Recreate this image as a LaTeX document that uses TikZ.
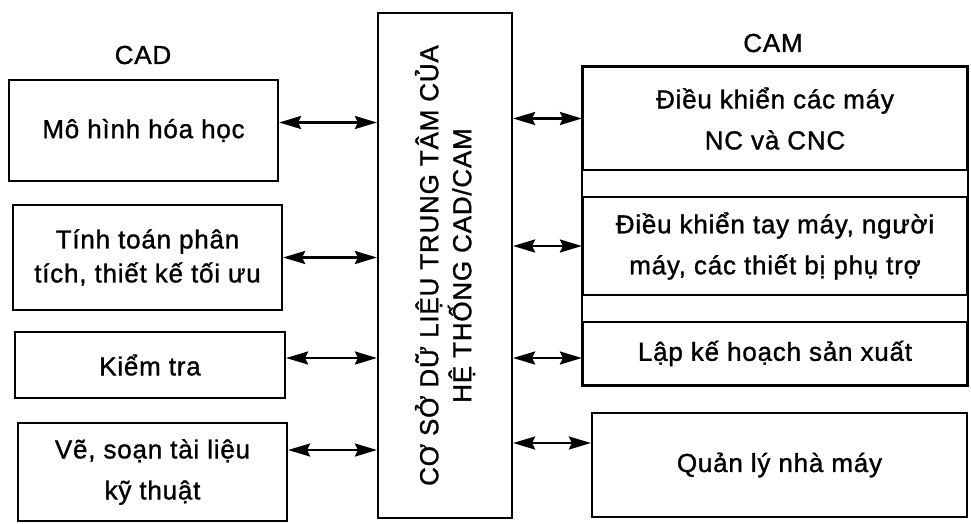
\documentclass[tikz,border=0pt]{standalone}
\usepackage{fontspec}
\setmainfont{Liberation Sans}[LetterSpace=3, FakeBold=1.2]
\usetikzlibrary{arrows.meta}
\tikzset{
  txt/.style={font=\fontsize{26}{40}\selectfont, align=center},
  box/.style={draw, line width=2.2pt, rectangle, inner sep=0pt, align=center,
              font=\fontsize{26}{41}\selectfont},
  biarrow/.style={line width=2.2pt, arrows={Stealth[length=22pt,width=13pt,inset=3pt]-Stealth[length=22pt,width=13pt,inset=3pt]}}
}
\begin{document}
\begin{tikzpicture}[x=1pt,y=-1pt]
\useasboundingbox (0,0) rectangle (971,524);
% labels
\node[txt] (cad) at (143,55) {CAD};
\node[txt] (cam) at (773,43) {CAM};
% left boxes
\node[box, minimum width=269pt, minimum height=101pt] (L1) at (143.5,130.5) {Mô hình hóa học};
\node[box, minimum width=269pt, minimum height=105pt, font=\fontsize{26}{34}\selectfont] (L2) at (147.5,257.5) {Tính toán phân\\tích, thiết kế tối ưu};
\node[box, minimum width=270pt, minimum height=66pt] (L3) at (150,365) {Kiểm tra};
\node[box, minimum width=269pt, minimum height=98pt] (L4) at (152.5,472) {Vẽ, soạn tài liệu\\kỹ thuật};
% centre box
\node[box, minimum width=134pt, minimum height=505pt] (C) at (445,265.5) {};
\node[txt, rotate=90, font=\fontsize{26}{33}\selectfont] (Ct) at (C.center) {CƠ SỞ DỮ LIỆU TRUNG TÂM CỦA\\HỆ THỐNG CAD/CAM};
% right boxes
\node[box, minimum width=384pt, minimum height=103pt] (R1) at (775,118.5) {Điều khiển các máy\\NC và CNC};
\node[box, minimum width=384pt, minimum height=98pt] (R2) at (775,246) {Điều khiển tay máy, người\\máy, các thiết bị phụ trợ};
\node[box, minimum width=384pt, minimum height=63pt] (R3) at (775,353.5) {Lập kế hoạch sản xuất};
\draw[line width=2.2pt] (R1.north west) rectangle (R3.south east);
\node[box, minimum width=375pt, minimum height=104pt] (R4) at (779.5,465) {Quản lý nhà máy};
% left connectors
\draw[biarrow] ([yshift=8pt]L1.east) -- ([yshift=8pt]L1.east -| C.west);
\draw[biarrow] (L2.east) -- (L2.east -| C.west);
\draw[biarrow] ([yshift=7pt]L3.east) -- ([yshift=7pt]L3.east -| C.west);
\draw[biarrow] ([yshift=22pt]L4.east) -- ([yshift=22pt]L4.east -| C.west);
% right connectors
\draw[biarrow] (C.east |- R1.west) -- (R1.west);
\draw[biarrow] (C.east |- R2.west) -- (R2.west);
\draw[biarrow] ([yshift=-4.5pt]C.east |- R3.west) -- ([yshift=-4.5pt]R3.west);
\draw[biarrow] ([yshift=22pt]C.east |- R4.west) -- ([yshift=22pt]R4.west);
\end{tikzpicture}
\end{document}
